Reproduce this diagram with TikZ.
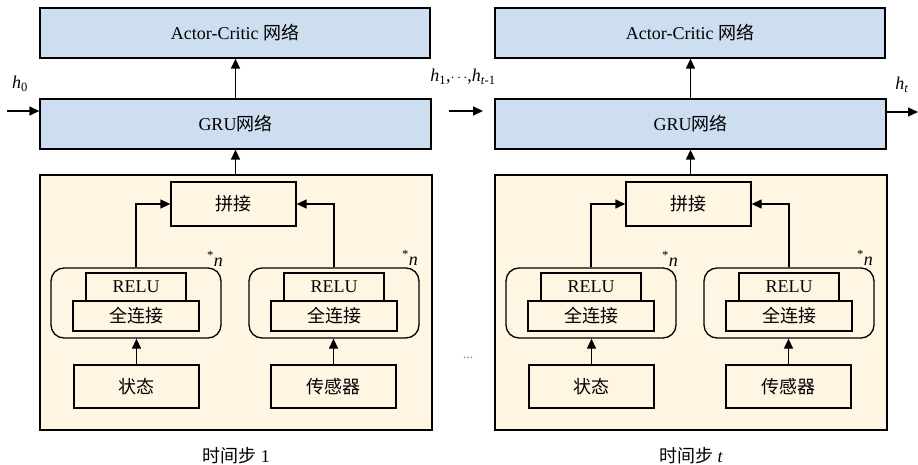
\documentclass[tikz,border=0pt]{standalone}
\usepackage{fontspec}
\setmainfont{Liberation Serif}
\newfontfamily\cjk{Noto Sans CJK SC}
\usetikzlibrary{arrows.meta}
\definecolor{bluefill}{RGB}{205,222,240}
\definecolor{beigefill}{RGB}{254,246,227}
\tikzset{
  lbl/.style={font=\fontsize{18}{21}\selectfont, inner sep=0pt},
  blk/.style={draw, line width=1.3pt, rectangle, inner sep=0pt, font=\fontsize{18}{21}\selectfont},
  bluebox/.style={blk, fill=bluefill},
  whbox/.style={blk, fill=beigefill},
  roundbox/.style={draw, line width=1.3pt, rounded corners=13pt, inner sep=0pt},
  arr/.style={-{Triangle[length=10pt,width=9pt]}, line width=1.3pt},
}
\newcommand\drawpanel[3]{%
\begin{scope}[xshift=#1pt]
  \node[bluebox, minimum width=390pt, minimum height=50pt] (ac#2) at (235,33) {Actor-Critic {\cjk 网络}};
  \node[bluebox, minimum width=391pt, minimum height=50pt] (gru#2) at (235.5,124) {GRU{\cjk 网络}};
  \node[blk, fill=beigefill, minimum width=392pt, minimum height=255pt] (bg#2) at (236,302.5) {};
  \node[whbox, minimum width=125pt, minimum height=44pt] (cat#2) at (233.5,204) {\cjk 拼接};
  \node[roundbox, minimum width=170pt, minimum height=70pt] (rl#2) at (136,303) {};
  \node[whbox, minimum width=100pt, minimum height=28pt] (relul#2) at (136,287) {RELU};
  \node[whbox, minimum width=126pt, minimum height=30pt] (fcl#2) at (136,316) {\cjk 全连接};
  \node[whbox, minimum width=125pt, minimum height=43pt] (st#2) at (136.5,386.5) {\cjk 状态};
  \node[roundbox, minimum width=170pt, minimum height=70pt] (rr#2) at (334,303) {};
  \node[whbox, minimum width=100pt, minimum height=28pt] (relur#2) at (334,287) {RELU};
  \node[whbox, minimum width=126pt, minimum height=30pt] (fcr#2) at (334,316) {\cjk 全连接};
  \node[whbox, minimum width=125pt, minimum height=43pt] (se#2) at (333.5,386.5) {\cjk 传感器};
  \node[lbl] (nl#2) at (215,259) {\textsuperscript{*}\textit{n}};
  \node[lbl] (nr#2) at (410,258) {\textsuperscript{*}\textit{n}};
  \node[lbl] (cap#2) at (236,456) {#3};
  \draw[arr] (gru#2.north) -- (gru#2.north |- ac#2.south);
  \draw[arr] (gru#2.south |- bg#2.north) -- (gru#2.south);
  \draw[arr] (rl#2.north) |- (cat#2.west);
  \draw[arr] (rr#2.north) |- (cat#2.east);
  \draw[arr] (st#2.north) -- (st#2.north |- rl#2.south);
  \draw[arr] (se#2.north) -- (se#2.north |- rr#2.south);
\end{scope}}
\begin{document}
\begin{tikzpicture}[x=1pt,y=-1pt]
  \useasboundingbox (0,0) rectangle (918,465);
  \drawpanel{0}{L}{{\cjk 时间步} 1}
  \drawpanel{455}{R}{{\cjk 时间步} \textit{t}}
  \coordinate (h0s) at (7,111);
  \draw[arr] (h0s) -- (h0s -| gruL.west);
  \node[lbl] (h0) at (20,84) {\textit{h}\textsubscript{0}};
  \coordinate (h1s) at (449,111);
  \coordinate (h1e) at (483,111);
  \draw[arr] (h1s) -- (h1e);
  \node[lbl] (h1) at (463,77) {\textit{h}\textsubscript{1},{\fontsize{15}{15}\selectfont$\cdots$},\textit{h}\textsubscript{\textit{t}-1}};
  \coordinate (hte) at (918,112);
  \draw[arr] (gruR.east |- hte) -- (hte);
  \node[lbl] (ht) at (902,85) {\textit{h}\textsubscript{\textit{t}}};
  \node[font=\fontsize{14}{14}\selectfont, text=gray, inner sep=0pt] (dots) at (468,358) {...};
\end{tikzpicture}
\end{document}
